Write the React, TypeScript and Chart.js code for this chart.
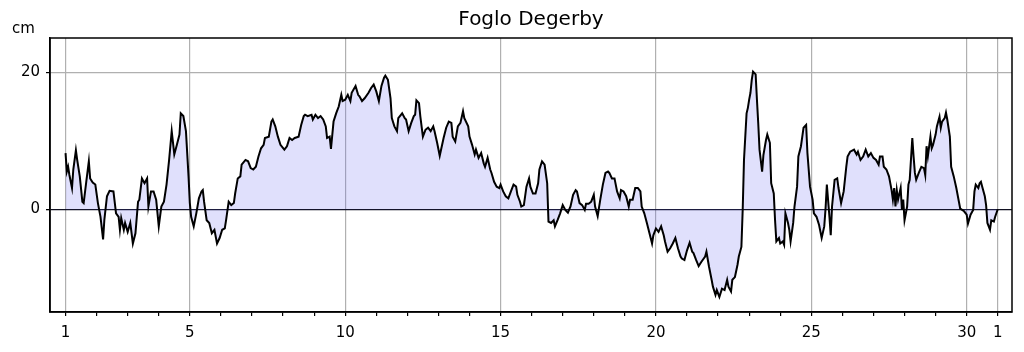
import React, { useEffect, useRef } from 'react';
import { Chart, registerables } from 'chart.js';

Chart.register(...registerables);

const TITLE = 'Foglo Degerby';
const Y_UNIT = 'cm';
const DAYS_IN_MONTH = 30;
const LABELLED_DAYS = [1, 5, 10, 15, 20, 25, 30];
const NEXT_MONTH_LABEL = '1';
const Y_TICKS = [0, 20];
const FONT = 'DejaVu Sans';

// hours since day 1 00:00
const hours = [
  0, 1, 2, 3, 5, 6, 8, 9, 11, 13,
  14, 16, 18, 19, 21, 23, 25, 27, 29, 30,
  32, 34, 37, 39, 41, 42, 43, 45, 46, 48,
  50, 52, 54, 56, 57, 59, 61, 63, 64, 66,
  68, 70, 72, 74, 76, 78, 80, 82, 84, 86,
  88, 89, 91, 93, 95, 96, 97, 99, 101, 103,
  105, 106, 107, 109, 111, 113, 115, 117, 119, 121,
  123,
  124, 126, 128, 130, 131, 133, 135, 136, 139, 141,
  143, 145, 147, 149, 151, 153, 154, 157, 159, 160,
  162, 164, 166, 169, 171, 173, 175, 177, 180, 182,
  184, 185, 187, 190, 191, 193, 195, 197, 199, 201,
  202, 204, 205, 207, 209, 211, 213, 214, 216, 218,
  220, 221, 224, 226, 227, 229, 231, 234, 236, 238,
  240, 242, 244, 246,
  247, 249, 251, 252, 254, 256, 257, 260, 262, 263,
  265, 267, 269, 270, 271, 273, 274, 276, 278, 280,
  282, 284, 285, 287, 289, 292, 294, 296, 298, 299,
  301, 303, 305, 307, 308, 311, 312, 314, 316, 317,
  319, 321, 323, 324, 326, 328, 329, 331, 333, 335,
  336, 338, 340, 342, 344, 346, 348, 349, 351, 352,
  354, 356, 358, 359, 361, 363, 365, 366, 368, 370,
  372, 373, 375, 377, 378, 380, 382, 384, 386, 388,
  390, 392, 394, 395, 397, 399, 401, 402, 404, 406,
  408, 409, 411, 413, 415, 417, 419, 420, 422, 424,
  426, 428, 429, 431, 433, 435, 436, 438, 440, 442,
  444, 445, 447, 449, 451, 453, 454, 456, 458, 460,
  462, 463, 465, 467, 469, 471, 473, 475, 476, 478,
  480, 482, 484, 485, 487, 489, 491, 494,
  495, 497, 499, 500, 502, 503, 505, 507, 509, 511,
  512, 514, 515, 517, 519, 520, 522, 523, 524, 526,
  527, 528, 529, 530, 531, 533, 534, 535, 536, 538,
  539, 541, 542, 544, 545, 547, 548, 549, 551, 552,
  554, 555, 556, 558, 559, 560, 562, 563, 565, 566,
  568, 570, 572, 573, 575, 577, 578, 580, 582, 584,
  586, 587, 588, 590, 591, 592, 594, 596, 597, 599,
  601, 603, 604,
  606, 609, 611, 612, 614, 616, 618, 620, 622, 624,
  626, 628, 629, 631, 632, 634, 636, 638, 639, 640,
  641, 642, 643, 645, 646, 647, 648, 650, 651, 652,
  654, 655, 656, 657, 659, 661, 663, 664, 665, 666,
  668, 669, 670, 672, 673, 675, 676, 677, 679, 680,
  681, 683, 684, 686, 688, 690, 691, 694, 696, 697,
  699, 701, 702, 703, 705, 706, 707, 708, 710, 711,
  712, 714, 715, 717, 718, 720,
];

// sea level, cm
const levels = [
  8.2, 5.5, 6.2, 5.0, 3.1, 5.8, 8.6, 7.2, 4.8, 1.1,
  0.9, 4.0, 7.0, 4.5, 3.9, 3.6, 0.9, -1.1, -4.4, -1.5,
  1.9, 2.7, 2.6, -0.6, -1.1, -3.0, -1.3, -3.0, -2.0, -3.3,
  -2.0, -5.0, -3.5, 1.1, 1.4, 4.5, 3.8, 4.5, 0.4, 2.6,
  2.6, 1.4, -2.5, 0.4, 1.1, 3.6, 7.2, 11.4, 8.0, 9.4,
  10.9, 14.0, 13.6, 11.4, 4.8, 0.9, -1.1, -2.5, -0.6, 1.6,
  2.6, 2.8, 1.1, -1.6, -2.0, -3.5, -3.0, -5.0, -4.2, -3.0,
  -2.8,
  -1.6, 1.1, 0.6, 0.9, 2.3, 4.5, 4.8, 6.5, 7.2, 7.0,
  6.0, 5.8, 6.2, 7.7, 8.9, 9.4, 10.4, 10.6, 12.8, 13.1,
  12.1, 10.6, 9.4, 8.7, 9.2, 10.4, 10.1, 10.4, 10.6, 12.3,
  13.6, 13.8, 13.6, 13.8, 13.1, 13.8, 13.3, 13.6, 13.1, 12.1,
  10.4, 10.6, 8.8, 12.8, 14.0, 15.0, 16.7, 15.8, 16.0, 16.7,
  15.8, 17.0, 18.0, 16.7, 16.5, 15.8, 16.2, 17.0, 17.7, 18.2,
  17.2, 15.8, 18.0, 19.2,
  19.5, 18.9, 16.2, 13.3, 12.1, 11.4, 13.3, 14.0, 13.3, 13.1,
  11.4, 12.6, 13.6, 13.8, 15.9, 15.5, 13.6, 10.6, 11.6, 11.9,
  11.4, 12.1, 11.4, 9.7, 7.8, 10.4, 11.9, 12.8, 12.6, 10.6,
  9.9, 12.1, 12.6, 14.3, 13.3, 12.1, 10.6, 9.4, 8.0, 8.7,
  7.5, 8.2, 6.7, 6.2, 7.5, 5.8, 5.3, 4.0, 3.3, 3.1,
  3.6, 2.6, 1.9, 1.6, 2.6, 3.6, 3.3, 2.1, 1.1, 0.4,
  0.6, 3.3, 4.5, 3.3, 2.3, 2.3, 3.8, 5.8, 7.0, 6.5,
  3.8, -1.8, -2.0, -1.6, -2.5, -1.6, -0.6, 0.6, -0.1, -0.5,
  0.4, 2.1, 2.8, 2.6, 0.9, 0.6, -0.1, 0.8, 0.8, 1.1,
  2.1, 0.4, -1.0, 1.4, 3.6, 5.3, 5.5, 5.3, 4.5, 4.5,
  2.6, 1.6, 2.8, 2.6, 1.9, 0.4, 1.4, 1.4, 3.1, 3.1,
  2.6, 0.4, -0.6, -2.0, -3.5, -5.0, -3.8, -2.8, -3.3, -2.5,
  -3.8, -4.7, -6.2, -5.7, -5.0, -4.2, -5.7, -6.9, -7.2, -7.4,
  -6.0, -4.9, -6.2, -6.4, -7.4, -8.3, -7.7, -6.9,
  -6.2, -8.4, -10.3, -11.3, -12.5, -11.8, -12.8, -11.6, -11.8, -10.3,
  -11.3, -12.0, -10.3, -9.9, -8.1, -6.9, -5.5, -0.1, 7.2, 14.0,
  14.8, 16.0, 17.0, 18.9, 20.1, 19.7, 16.0, 12.6, 8.7, 5.5,
  7.9, 10.1, 10.9, 9.7, 3.8, 2.3, -1.6, -4.7, -4.2, -5.0,
  -4.7, -5.2, -0.6, -2.0, -3.0, -4.7, -2.0, 0.4, 3.3, 7.7,
  9.2, 11.9, 12.3, 8.2, 3.3, 1.4, -0.6, -1.1, -2.3, -4.2,
  -2.5, 0.1, 3.6, -1.1, -3.8, 0.4, 4.3, 4.5, 3.1, 0.9,
  2.6, 6.2, 7.7,
  8.4, 8.7, 8.0, 8.4, 7.2, 7.7, 8.7, 7.7, 8.2, 7.5,
  7.2, 6.5, 7.7, 7.7, 6.2, 5.8, 4.8, 2.8, 1.4, 3.1,
  0.4, 2.8, 1.4, 3.1, -0.1, 1.4, -1.6, 0.4, 3.6, 4.3,
  10.4, 7.7, 5.3, 4.3, 5.3, 6.2, 6.0, 5.0, 9.2, 7.7,
  10.6, 8.9, 9.4, 10.9, 12.1, 13.5, 11.9, 12.8, 13.3, 14.1,
  13.1, 10.6, 6.2, 4.8, 3.1, 1.1, 0.1, -0.3, -0.8, -2.1,
  -0.8, -0.1, 2.6, 3.6, 3.1, 3.8, 4.0, 3.3, 1.9, 0.6,
  -2.0, -3.0, -1.6, -1.8, -1.1, 0.0,
];

function dayLabel(value: number): string {
  const idx = Math.round(value / 24);
  if (idx === DAYS_IN_MONTH) return NEXT_MONTH_LABEL;
  const day = idx + 1;
  return LABELLED_DAYS.includes(day) ? String(day) : '';
}

export default function App() {
  const ref = useRef<HTMLCanvasElement>(null);

  useEffect(() => {
    document.body.style.margin = '0';
    const canvas = ref.current!;
    const framePlugin = {
      id: 'frameAndUnit',
      afterDatasetsDraw(chart: any) {
        const { ctx, chartArea: a } = chart;
        ctx.save();
        ctx.strokeStyle = '#000';
        ctx.lineWidth = 1.5;
        ctx.strokeRect(a.left, a.top, a.right - a.left, a.bottom - a.top);
        ctx.restore();
      },
      afterDraw(chart: any) {
        const { ctx } = chart;
        ctx.save();
        ctx.fillStyle = '#000';
        ctx.font = `15px "${FONT}"`;
        ctx.textAlign = 'left';
        ctx.textBaseline = 'alphabetic';
        ctx.fillText(Y_UNIT, 12, 33);
        ctx.restore();
      },
    };

    const chart = new Chart(canvas, {
      type: 'line',
      data: {
        datasets: [
          {
            data: hours.map((h, i) => ({ x: h, y: levels[i] })),
            borderColor: '#000',
            borderWidth: 2,
            pointRadius: 0,
            tension: 0,
            fill: 'origin',
            backgroundColor: 'rgba(100,100,240,0.2)',
          },
        ],
      },
      options: {
        responsive: false,
        animation: false,
        layout: { padding: { left: 0, right: 12, top: 0, bottom: 0 } },
        plugins: {
          legend: { display: false },
          tooltip: { enabled: false },
          title: {
            display: true,
            text: TITLE,
            fullSize: false,
            color: '#000',
            font: { family: FONT, size: 20, weight: 'normal' },
            padding: { top: 8, bottom: 6 },
          },
        },
        scales: {
          x: {
            type: 'linear',
            min: -12,
            max: 731,
            afterBuildTicks: (s: any) => {
              s.ticks = Array.from({ length: DAYS_IN_MONTH + 1 }, (_, i) => ({ value: i * 24 }));
            },
            afterFit: (s: any) => {
              s.height = 40;
            },
            border: { color: '#000', width: 1.5 },
            grid: {
              color: (c: any) => (c.tick && dayLabel(c.tick.value) !== '' ? '#b0b0b0' : 'rgba(0,0,0,0)'),
              lineWidth: 1.2,
              tickColor: '#000',
              tickLength: 4,
            },
            ticks: {
              autoSkip: false,
              maxRotation: 0,
              padding: 8,
              color: '#000',
              font: { family: FONT, size: 15 },
              callback: (v: any) => dayLabel(Number(v)),
            },
          },
          y: {
            type: 'linear',
            min: -15,
            max: 25,
            afterBuildTicks: (s: any) => {
              s.ticks = Y_TICKS.map((v) => ({ value: v }));
            },
            afterFit: (s: any) => {
              s.width = 50;
            },
            border: { color: '#000', width: 1.5 },
            grid: {
              color: (c: any) => (c.tick && c.tick.value === 0 ? '#101020' : '#b0b0b0'),
              lineWidth: (c: any) => (c.tick && c.tick.value === 0 ? 1.3 : 1.2),
              tickColor: '#000',
              tickLength: 4,
            },
            ticks: {
              padding: 6,
              color: '#000',
              font: { family: FONT, size: 15 },
              callback: (v: any) => String(v),
            },
          },
        },
      },
      plugins: [framePlugin],
    });

    return () => chart.destroy();
  }, []);

  return <canvas ref={ref} width={1024} height={352} style={{ display: 'block' }} />;
}
